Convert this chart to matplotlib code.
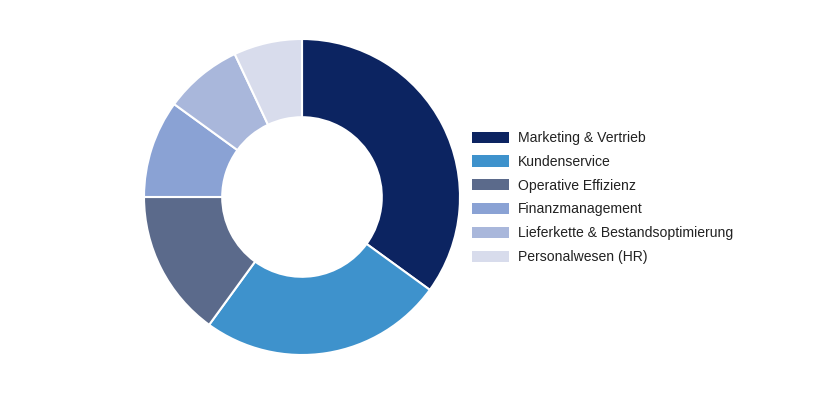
import matplotlib
matplotlib.use("Agg")
import matplotlib.pyplot as plt

categories = ["Marketing & Vertrieb", "Kundenservice", "Operative Effizienz",
              "Finanzmanagement", "Lieferkette & Bestandsoptimierung", "Personalwesen (HR)"]
values = [35, 25, 15, 10, 8, 7]
colors = ["#0c2461", "#3e92cc", "#5b6a8b", "#8aa2d4", "#a9b7db", "#d8dcec"]

plt.rcParams['font.family'] = ['Liberation Sans', 'DejaVu Sans']

W, H = 824, 394
fig = plt.figure(figsize=(W / 100, H / 100), dpi=100)
cx, cy, r = 302, 197, 158
ax = fig.add_axes([(cx - r) / W, (H - cy - r) / H, 2 * r / W, 2 * r / H])
wedges, _ = ax.pie(values, colors=colors, startangle=90, counterclock=False,
                   radius=1, wedgeprops=dict(width=0.495, edgecolor="white", linewidth=1.5))
ax.set_xlim(-1, 1)
ax.set_ylim(-1, 1)
ax.set_aspect("equal")
ax.axis("off")

leg = fig.legend(wedges, categories, loc="center left",
                 bbox_to_anchor=(472 / W, (H - 197.5) / H), frameon=False,
                 fontsize=10.1, handlelength=2.64, handleheight=0.85,
                 handletextpad=0.64, labelspacing=0.7, borderpad=0, borderaxespad=0)
for h in leg.legend_handles:
    h.set_edgecolor("none")
    h.set_linewidth(0)
for t in leg.get_texts():
    t.set_color("#222222")

fig.savefig("out.png", dpi=100)
